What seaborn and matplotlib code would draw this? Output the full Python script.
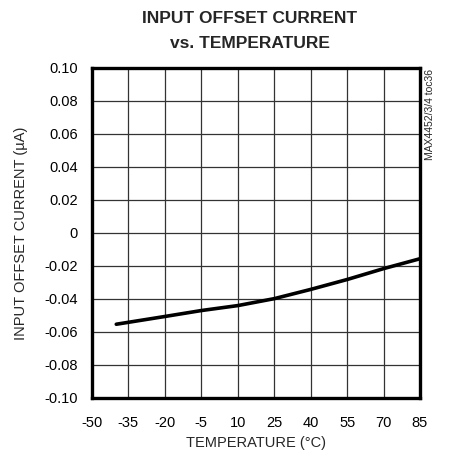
import matplotlib
matplotlib.use("Agg")
import matplotlib.pyplot as plt
import seaborn as sns
import pandas as pd

# curve
temperatura = [-40, -20, -5, 10, 25, 40, 55, 70, 85]
corrente = [-0.0553, -0.0506, -0.0470, -0.0440, -0.0398, -0.0342, -0.0282, -0.0216, -0.0156]

x_ticks = [-50, -35, -20, -5, 10, 25, 40, 55, 70, 85]
y_ticks = [0.10, 0.08, 0.06, 0.04, 0.02, 0.0, -0.02, -0.04, -0.06, -0.08, -0.10]
y_tick_labels = ["0.10", "0.08", "0.06", "0.04", "0.02", "0", "-0.02", "-0.04", "-0.06", "-0.08", "-0.10"]

df = pd.DataFrame({"temp": temperatura, "iof": corrente})

sns.set_style("white")
plt.rcParams["font.family"] = ["Liberation Sans", "DejaVu Sans"]

fig = plt.figure(figsize=(4.70, 4.59), dpi=100)
ax = fig.add_axes([0.1957, 0.1329, 0.6979, 0.7190])

sns.lineplot(data=df, x="temp", y="iof", ax=ax, color="black", lw=2.6)

ax.set_xlim(-50, 85)
ax.set_ylim(-0.10, 0.10)
ax.set_xticks(x_ticks)
ax.set_xticklabels([str(t) for t in x_ticks])
ax.set_yticks(y_ticks)
ax.set_yticklabels(y_tick_labels)
ax.tick_params(length=0, labelsize=10.5, colors="black")
ax.tick_params(axis="x", pad=13)
ax.tick_params(axis="y", pad=10)

ax.grid(True, color="#333333", lw=0.9)
for s in ax.spines.values():
    s.set_linewidth(2.4)
    s.set_color("black")

ax.set_xlabel("TEMPERATURE (°C)", fontsize=10.5, labelpad=4)
ax.set_ylabel("INPUT OFFSET CURRENT (µA)", fontsize=10.5, labelpad=12)

fig.text(0.532, 0.975, "INPUT OFFSET CURRENT\nvs. TEMPERATURE", ha="center", va="top",
         fontsize=12.5, fontweight="bold", linespacing=1.8)
fig.text(0.914, 0.85, "MAX4452/3/4 toc36", rotation=90, ha="center", va="top", fontsize=7.5)

fig.savefig("out.png", dpi=100)
plt.close(fig)
